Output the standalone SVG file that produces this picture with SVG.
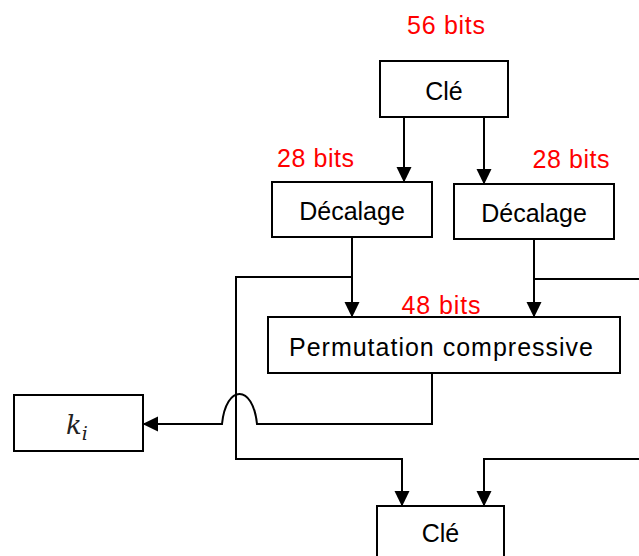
<svg xmlns="http://www.w3.org/2000/svg" width="639" height="556" viewBox="0 0 639 556">
<style>
.box{fill:#fff;stroke:#000;stroke-width:2}
.lbl{font-family:"Liberation Sans",Arial,sans-serif;font-size:25px;fill:#000;text-anchor:middle}
.bits{font-family:"Liberation Sans",Arial,sans-serif;font-size:25px;fill:#ff0000;text-anchor:middle}
.ln{fill:none;stroke:#000;stroke-width:2}
</style>
<defs>
<marker id="ah" markerUnits="userSpaceOnUse" markerWidth="16" markerHeight="16" viewBox="0 0 16 16" refX="15" refY="8" orient="auto">
<path d="M0,0.5 L15.5,8 L0,15.5 Z" fill="#000"/>
</marker>
</defs>
<rect width="639" height="556" fill="#fff"/>
<g id="connectors">
<path class="ln" d="M404,117 V182" marker-end="url(#ah)"/>
<path class="ln" d="M484,117 V184" marker-end="url(#ah)"/>
<path class="ln" d="M352,237 V317" marker-end="url(#ah)"/>
<path class="ln" d="M534,239 V317" marker-end="url(#ah)"/>
<path class="ln" d="M352,277 H236 V459 H402 V506" marker-end="url(#ah)"/>
<path class="ln" d="M640,279 H534"/>
<path class="ln" d="M640,459 H484 V506" marker-end="url(#ah)"/>
<path class="ln" d="M432,373 V424 H257 C253,384 226,384 222,424 H143" marker-end="url(#ah)"/>
</g>
<g id="label-56"><text class="bits" x="446" y="34" textLength="78">56 bits</text></g>
<g id="cle-top">
<rect class="box" x="380" y="61" width="128" height="56"/>
<text class="lbl" x="444" y="100">Clé</text>
</g>
<g id="label-28-left"><text class="bits" x="315.5" y="167" textLength="77">28 bits</text></g>
<g id="label-28-right"><text class="bits" x="571" y="168" textLength="77">28 bits</text></g>
<g id="decalage-left">
<rect class="box" x="272" y="182" width="160" height="55"/>
<text class="lbl" x="352" y="220">Décalage</text>
</g>
<g id="decalage-right">
<rect class="box" x="454" y="184" width="160" height="55"/>
<text class="lbl" x="534" y="222">Décalage</text>
</g>
<g id="label-48"><text class="bits" x="441" y="314" textLength="79">48 bits</text></g>
<g id="permutation">
<rect class="box" x="268" y="317" width="352" height="56"/>
<text class="lbl" x="441" y="356" textLength="304">Permutation compressive</text>
</g>
<g id="ki">
<rect class="box" x="14" y="395" width="129" height="56"/>
<text x="66" y="434" font-family="'DejaVu Serif','Liberation Serif',serif" font-style="italic" font-size="26" fill="#222">k<tspan font-size="19" dy="6">i</tspan></text>
</g>
<g id="cle-bottom">
<rect class="box" x="377" y="506" width="127" height="60"/>
<text class="lbl" x="440.5" y="542">Clé</text>
</g>
</svg>
